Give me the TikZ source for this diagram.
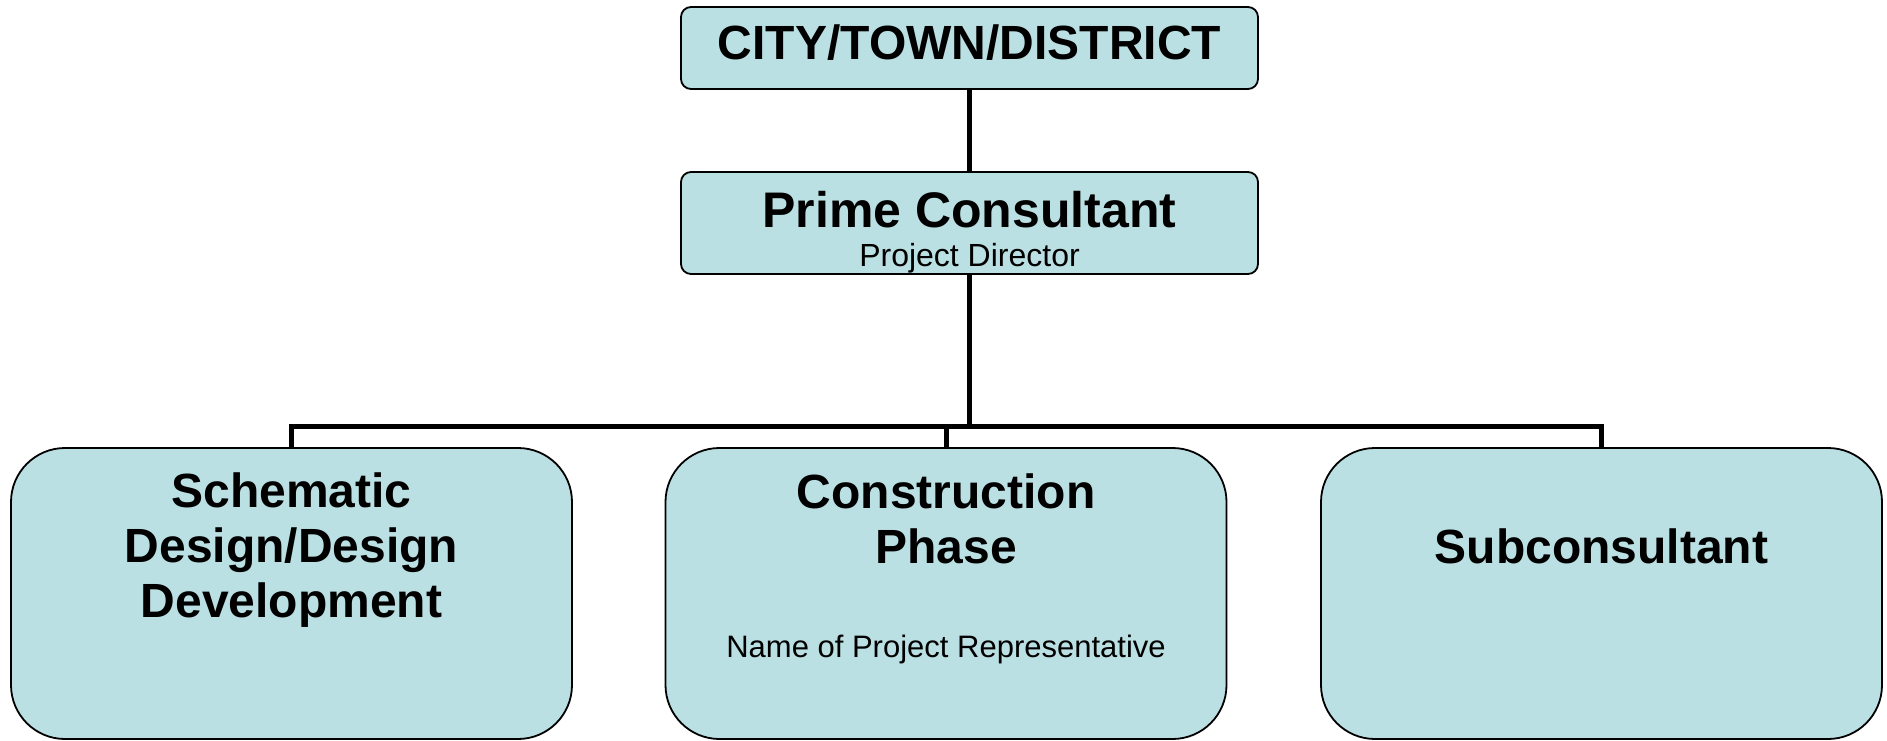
\documentclass[tikz,border=0pt]{standalone}
\usepackage{fontspec}
\setmainfont{Liberation Sans}
\definecolor{boxfill}{RGB}{187,224,227}
\begin{document}
\begin{tikzpicture}[x=1pt,y=-1pt,
  topbox/.style={draw=black, line width=1.8pt, fill=boxfill, rounded corners=10pt, minimum width=577pt, inner sep=0pt},
  bigbox/.style={draw=black, line width=1.8pt, fill=boxfill, rounded corners=54pt, minimum width=561pt, minimum height=291pt, inner sep=0pt},
  conn/.style={line width=5pt},
  boldtxt/.style={inner sep=0pt, anchor=base, align=center, font=\bfseries\fontsize{48}{55}\selectfont},
  smalltxt/.style={inner sep=0pt, anchor=base, font=\fontsize{31}{36}\selectfont}
]
\useasboundingbox (0,0) rectangle (1887,741);
% boxes
\node[topbox, minimum height=82pt] (city) at (969.5,48) {};
\node[topbox, minimum height=102pt] (prime) at (969.5,223) {};
\node[bigbox] (sdd) at (291.5,593.5) {};
\node[bigbox] (cp) at (946,593.5) {};
\node[bigbox] (sub) at (1601.5,593.5) {};
% connectors
\coordinate (busL) at (291.5,426);
\coordinate (busR) at (1601.5,426);
\draw[conn] (city.south) -- (prime.north);
\draw[conn] (prime.south) -- (prime.south |- busL);
\draw[conn, line cap=rect] (busL) -- (busR);
\draw[conn] (busL) -- (sdd.north);
\draw[conn] (cp.north |- busL) -- (cp.north);
\draw[conn] (busR) -- (sub.north);
% texts
\node[boldtxt] (citytxt) at (969.5,60) {CITY/TOWN/DISTRICT};
\node[boldtxt, font=\bfseries\fontsize{50}{55}\selectfont] (primetxt) at (969.5,227) {Prime Consultant};
\node[smalltxt, font=\fontsize{32}{36}\selectfont] (pdtxt) at (969.5,266) {Project Director};
\node[boldtxt] (sddtxt) at (291.5,617) {Schematic\\Design/Design\\Development};
\node[boldtxt] (cptxt) at (946,563) {Construction\\Phase};
\node[smalltxt] (reptxt) at (946,657) {Name of Project Representative};
\node[boldtxt] (subtxt) at (1601.5,563) {Subconsultant};
\end{tikzpicture}
\end{document}
